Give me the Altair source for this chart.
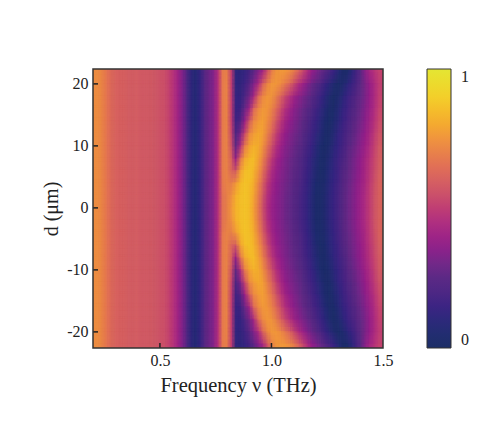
import altair as alt
import pandas as pd

FONT = "Liberation Serif"
LEFT_FREQS = [0.20,0.22,0.24,0.26,0.28,0.30,0.32,0.34,0.36,0.38,0.40,0.42,0.44,0.46,0.48,0.50,0.52,0.54,0.56,0.58,0.60,0.62,0.64,0.66,0.68,0.70,0.72,0.74,0.76]
LEFT_VALUES = [74,73,71,67,63,61,60,60,59,59,59,58,58,58,57,56,55,52,47,41,33,22,11,7,13,23,29,34,46]
RIGHT_FREQS = [0.78,0.80,0.82,0.84,0.86,0.88,0.90,0.92,0.94,0.96,0.98,1.00,1.02,1.04,1.06,1.08,1.10,1.12,1.14,1.16,1.18,1.20,1.22,1.24,1.26,1.28,1.30,1.32,1.34,1.36,1.38,1.40,1.42,1.44,1.46,1.48,1.50]
RIGHT_BY_ABS_D = {
 0:[66,70,76,83,86,87,85,78,68,56,46,39,36,33,30,27,24,21,17,13,8,3,3,6,11,15,19,24,28,32,36,40,45,50,56,60,63],
 2:[66,70,74,82,86,87,85,79,69,58,47,40,36,33,30,27,24,21,17,13,8,3,3,6,11,15,19,24,28,32,36,40,45,50,56,60,63],
 4:[67,71,70,76,84,87,86,81,72,61,50,42,37,34,31,28,25,22,18,14,9,4,3,5,10,14,18,23,27,31,35,39,44,49,55,60,63],
 6:[68,71,62,58,78,85,87,83,76,66,55,45,39,35,32,29,26,23,19,15,11,6,2,4,9,13,17,22,26,30,34,38,43,48,54,59,62],
 8:[68,71,60,38,65,79,84,85,79,71,60,50,42,37,33,30,27,24,20,16,12,7,3,3,7,12,16,20,25,29,33,37,42,47,53,58,61],
 10:[68,71,55,26,45,68,78,82,81,75,66,56,47,40,35,32,29,26,22,18,14,9,4,2,5,10,14,18,23,27,31,35,40,45,51,57,60],
 12:[68,71,52,20,32,52,72,77,80,78,71,62,52,44,38,34,31,28,24,20,16,12,7,3,3,8,13,17,21,25,29,33,38,43,49,55,58],
 14:[68,71,50,16,22,38,58,72,76,78,74,67,58,49,42,37,33,30,26,22,18,14,9,4,2,6,10,15,19,23,27,31,36,41,47,53,57],
 16:[68,71,50,14,16,28,40,62,72,76,76,71,64,55,47,41,36,32,28,25,21,17,12,7,3,3,8,13,17,21,25,29,34,39,45,51,55],
 18:[68,71,50,13,13,20,30,42,62,72,76,75,70,62,54,47,41,36,32,28,24,20,15,10,5,2,5,10,15,19,23,27,32,38,44,50,54],
 20:[68,71,50,12,12,16,24,33,44,60,71,76,76,73,68,62,54,46,40,34,29,25,20,15,10,5,2,5,10,15,20,26,32,38,44,49,52],
 22:[68,70,50,11,11,13,18,25,33,41,55,68,75,76,76,73,69,62,54,46,38,33,28,24,19,14,8,3,3,10,18,25,35,42,47,51,53],
}
D_VALUES = [-22,-20,-18,-16,-14,-12,-10,-8,-6,-4,-2,0,2,4,6,8,10,12,14,16,18,20,22]
X_TICKS = [0.5,1.0,1.5]
Y_TICKS = [-20,-10,0,10,20]
CMAP_STOPS = [0,0.01,0.144,0.26,0.37,0.455,0.575,0.70,0.80,0.90,1]
CMAP_COLORS = ["#1c2e66","#1c2e68","#3a2483","#5e2a85","#931f8a","#b0307f","#cf5a66","#e8814a","#f4a930","#f3cf2a","#e4e633"]

base_rows = []
for d in D_VALUES:
    right = RIGHT_BY_ABS_D[abs(d)]
    for f, v in list(zip(LEFT_FREQS, LEFT_VALUES)) + list(zip(RIGHT_FREQS, right)):
        base_rows.append((f, d, v / 100))

x_scale = alt.Scale(domain=[0.2,1.5], nice=False, zero=False)
y_scale = alt.Scale(domain=[-22.6,22.4], nice=False, zero=False)
color_scale = alt.Scale(domain=CMAP_STOPS, range=CMAP_COLORS, clamp=True)

x_axis = alt.Axis(values=X_TICKS, format=".1f", ticks=False, domain=False, grid=False, labelPadding=4,
                  labelFont=FONT, labelFontSize=16, labelColor="#222", labelFlush=False,
                  titleFont=FONT, titleFontSize=20.5, titleFontWeight="normal", titleColor="#222", titlePadding=7)
y_axis = alt.Axis(values=Y_TICKS, labelExpr="toString(datum.value)", ticks=False, domain=False, grid=False, labelPadding=5,
                  labelFont=FONT, labelFontSize=16, labelColor="#222",
                  titleFont=FONT, titleFontSize=20, titleFontWeight="normal", titleColor="#222", titlePadding=5)
legend = alt.Legend(title=None, orient="none", legendX=334, legendY=0, gradientLength=279, gradientThickness=24,
                    values=[0,1], format=".0f", labelFont=FONT, labelFontSize=16, labelColor="#222", labelOffset=10, labelOverlap=False,
                    labelBaseline="middle", gradientStrokeColor="#333", gradientStrokeWidth=1, direction="vertical", type="gradient")

# the same read-off table is drawn at offset grids with falling opacity so neighbouring cells blend
OFFSETS = [(-0.005,0,1.0),(0.005,0,1/2),(-0.005,0.67,1/3),(0.005,0.67,1/4),(-0.005,-0.67,1/5),(0.005,-0.67,1/6)]
heat_layers = []
for dx,dy,op in OFFSETS:
    df = pd.DataFrame([dict(f0=f+dx-0.012, f1=f+dx+0.012, d0=d+dy-1.2, d1=d+dy+1.2, v=v) for f,d,v in base_rows])
    heat_layers.append(alt.Chart(df).mark_rect(clip=True, opacity=op).encode(
        x=alt.X("f0:Q", scale=x_scale, title="Frequency ν (THz)", axis=x_axis),
        x2="f1:Q",
        y=alt.Y("d0:Q", scale=y_scale, title="d (μm)", axis=y_axis),
        y2="d1:Q",
        color=alt.Color("v:Q", scale=color_scale, legend=legend),
    ))

xticks = alt.Chart(pd.DataFrame({"f": X_TICKS[:2]})).mark_rule(color="#222", strokeWidth=1.5).encode(
    x=alt.X("f:Q", scale=x_scale, axis=x_axis, title="Frequency ν (THz)"), y=alt.value(279), y2=alt.value(274))
yticks = alt.Chart(pd.DataFrame({"d": Y_TICKS})).mark_rule(color="#222", strokeWidth=1.5).encode(
    y=alt.Y("d:Q", scale=y_scale, axis=y_axis, title="d (μm)"), x=alt.value(0), x2=alt.value(5))
frame = alt.Chart(pd.DataFrame({"a": [0]})).mark_rect(fill=None, stroke="#333", strokeWidth=1.5).encode(
    x=alt.value(0), x2=alt.value(290), y=alt.value(0), y2=alt.value(279))

chart = alt.layer(*heat_layers, xticks, yticks, frame).properties(
    width=290, height=279, autosize=alt.AutoSizeParams(type="none"),
    padding={"left":85,"top":61,"right":100,"bottom":60},
).configure_view(stroke=None).configure_axis(grid=False)

chart.save("out.html", embed_options={"renderer": "svg", "actions": False})
